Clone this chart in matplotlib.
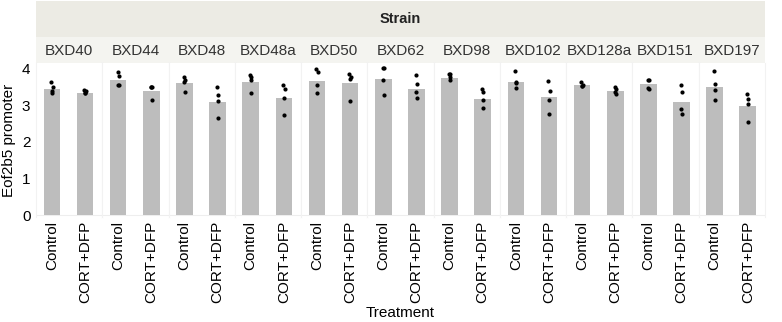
import numpy as np
import matplotlib
matplotlib.use('Agg')
import matplotlib.pyplot as plt

plt.rcParams['font.family'] = ['Liberation Sans', 'DejaVu Sans']

# strains (facets) and treatments
strains = ['BXD40', 'BXD44', 'BXD48', 'BXD48a', 'BXD50', 'BXD62',
           'BXD98', 'BXD102', 'BXD128a', 'BXD151', 'BXD197']
treatments = ['Control', 'CORT+DFP']

# bar heights (group means)
control_mean = [3.43, 3.68, 3.60, 3.63, 3.65, 3.72, 3.75, 3.63, 3.54, 3.57, 3.50]
cort_mean = [3.32, 3.38, 3.10, 3.20, 3.60, 3.45, 3.18, 3.22, 3.38, 3.10, 2.97]

# individual points
control_pts = [
    [3.62, 3.50, 3.40, 3.32],
    [3.90, 3.80, 3.55, 3.55],
    [3.77, 3.68, 3.63, 3.36],
    [3.81, 3.77, 3.68, 3.33],
    [4.00, 3.90, 3.54, 3.33],
    [4.02, 4.02, 3.70, 3.27],
    [3.86, 3.84, 3.77, 3.68],
    [3.93, 3.63, 3.60, 3.48],
    [3.63, 3.54, 3.52, 3.52],
    [3.68, 3.68, 3.48, 3.45],
    [3.93, 3.57, 3.41, 3.13],
]
cort_pts = [
    [3.42, 3.38, 3.34, 3.32],
    [3.50, 3.50, 3.50, 3.13],
    [3.50, 3.29, 3.11, 2.65],
    [3.55, 3.45, 3.20, 2.72],
    [3.86, 3.77, 3.72, 3.11],
    [3.81, 3.57, 3.36, 3.20],
    [3.45, 3.36, 3.13, 2.93],
    [3.66, 3.38, 3.15, 2.75],
    [3.50, 3.45, 3.35, 3.30],
    [3.55, 3.36, 2.90, 2.75],
    [3.30, 3.18, 3.04, 2.54],
]

W, H = 782, 322
fig = plt.figure(figsize=(W / 100, H / 100), dpi=100)

left, right = 36, 765
top_panel, bottom_panel = 63, 217
fw = (right - left) / len(strains)

def fx(px):
    return px / W

def fy(py):
    return 1 - py / H

# "Strain" header strip
hdr = fig.add_axes([fx(left), fy(37), fx(right - left), (37 - 1) / H])
hdr.set_facecolor('#ECEBE4')
hdr.set_xticks([]); hdr.set_yticks([])
for s in hdr.spines.values():
    s.set_visible(False)
hdr.text(0.5, 0.5, 'Strain', ha='center', va='center', fontsize=10.5,
         fontweight='bold', color='#222222', transform=hdr.transAxes)

# strain label strip
lab = fig.add_axes([fx(left), fy(top_panel), fx(right - left), (top_panel - 37) / H])
lab.set_facecolor('#F4F4F0')
lab.set_xticks([]); lab.set_yticks([])
for s in lab.spines.values():
    s.set_visible(False)

jitter = [-0.02, 0.02, 0.0, 0.01]
bar_color = '#BDBDBD'

for i, name in enumerate(strains):
    ax = fig.add_axes([fx(left + i * fw), fy(bottom_panel), fx(fw),
                       (bottom_panel - top_panel) / H])
    ax.bar([0, 1], [control_mean[i], cort_mean[i]], width=0.5,
           color=bar_color, zorder=2)
    for xi, pts in enumerate([control_pts[i], cort_pts[i]]):
        xs = [xi + jitter[k % len(jitter)] for k in range(len(pts))]
        ax.scatter(xs, pts, s=9, color='black', zorder=3, linewidths=0)
    ax.set_xlim(-0.48, 1.52)
    ax.set_ylim(-0.05, 4.15)
    ax.set_xticks([0, 1])
    ax.set_xticklabels(treatments, rotation=90, fontsize=11)
    ax.tick_params(axis='x', length=0, pad=3)
    ax.set_yticks([0, 1, 2, 3, 4])
    if i == 0:
        ax.tick_params(axis='y', length=0, labelsize=11, pad=4)
        ax.set_ylabel('Eof2b5 promoter', fontsize=11, labelpad=4)
    else:
        ax.tick_params(axis='y', length=0, labelleft=False)
    ax.axhline(0, color='#EEEEEE', lw=0.8, zorder=1)
    for side in ['top', 'bottom']:
        ax.spines[side].set_visible(False)
    for side in ['left', 'right']:
        ax.spines[side].set_color('#F2F2F2')
        ax.spines[side].set_linewidth(0.8)
    lab.text((i + 0.5) / len(strains), 0.45, name, ha='center', va='center',
             fontsize=11, color='#333333', transform=lab.transAxes)

fig.text(fx((left + right) / 2), fy(313), 'Treatment', ha='center',
         va='center', fontsize=11)

fig.savefig('out.png', dpi=100)
